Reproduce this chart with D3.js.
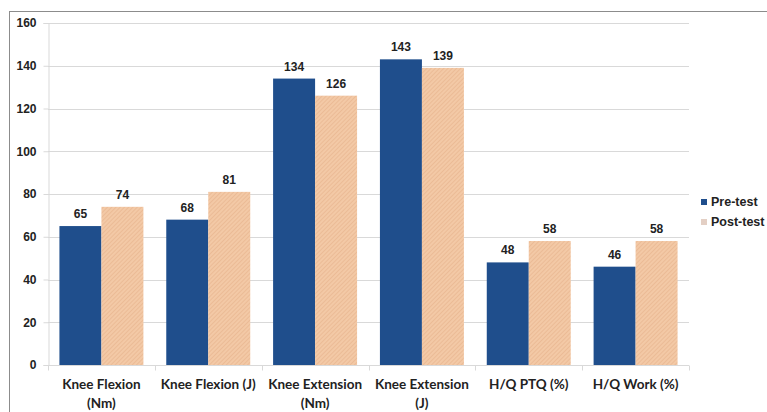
<!DOCTYPE html>
<html>
<head>
<meta charset="utf-8">
<script src="https://cdn.jsdelivr.net/npm/d3@7"></script>
<style>
  html, body { margin: 0; padding: 0; background: #ffffff; }
  svg { display: block; }
</style>
</head>
<body>
<svg id="chart" width="767" height="412"></svg>
<script>
// Isokinetic knee strength, before and after the programme
const categories = [
  ["Knee Flexion", "(Nm)"],
  ["Knee Flexion (J)"],
  ["Knee Extension", "(Nm)"],
  ["Knee Extension", "(J)"],
  ["H/Q PTQ (%)"],
  ["H/Q Work (%)"]
];
const preTest  = [65, 68, 134, 143, 48, 46];
const postTest = [74, 81, 126, 139, 58, 58];
const seriesNames = ["Pre-test", "Post-test"];
const yTicks = [0, 20, 40, 60, 80, 100, 120, 140, 160];

const W = 767, H = 412;
const margin = { left: 48, top: 23 };
const plotRight = 689;
const plotBottom = 365;

const svg = d3.select("#chart");

// chart frame
svg.append("rect")
  .attr("x", 9.5).attr("y", 11.5)
  .attr("width", W).attr("height", H)
  .attr("fill", "#ffffff")
  .attr("stroke", "#8c8c8c").attr("stroke-width", 1);

// hatched fill for post-test bars
const defs = svg.append("defs");
const pat = defs.append("pattern")
  .attr("id", "hatch")
  .attr("patternUnits", "userSpaceOnUse")
  .attr("width", 3).attr("height", 3)
  .attr("patternTransform", "rotate(45)");
pat.append("rect").attr("width", 3).attr("height", 3).attr("fill", "#f3c9a6");
pat.append("rect").attr("width", 1).attr("height", 3).attr("fill", "#ebbb96");

const x0 = d3.scaleBand()
  .domain(d3.range(categories.length))
  .range([margin.left, plotRight])
  .paddingInner(0.214)
  .paddingOuter(0.107);

const x1 = d3.scaleBand()
  .domain(seriesNames)
  .range([0, x0.bandwidth()]);

const y = d3.scaleLinear().domain([0, 160]).range([plotBottom, margin.top]);

const colors = { "Pre-test": "#1f4e8c", "Post-test": "url(#hatch)" };

// gridlines
svg.append("g")
  .selectAll("line")
  .data(yTicks.filter(d => d > 0))
  .join("line")
  .attr("x1", margin.left).attr("x2", plotRight)
  .attr("y1", d => Math.round(y(d)) + 0.5).attr("y2", d => Math.round(y(d)) + 0.5)
  .attr("stroke", "#d9d9d9").attr("stroke-width", 1);

// y axis
const yAxis = svg.append("g")
  .attr("transform", `translate(${margin.left + 0.5},0)`)
  .call(d3.axisLeft(y).tickValues(yTicks).tickSize(5).tickPadding(7));
yAxis.select(".domain").attr("stroke", "#d9d9d9");
yAxis.selectAll(".tick line").attr("stroke", "#d9d9d9");
yAxis.selectAll(".tick text")
  .attr("font-family", "Liberation Sans, Arial, sans-serif")
  .attr("font-weight", "bold")
  .attr("font-size", 12)
  .attr("fill", "#222")
  .attr("x", -12);

// bars
const rows = categories.map((c, i) => ({ i, values: [preTest[i], postTest[i]] }));
const groups = svg.append("g")
  .selectAll("g")
  .data(rows)
  .join("g")
  .attr("transform", d => `translate(${x0(d.i)},0)`);

groups.selectAll("rect")
  .data(d => d.values.map((v, k) => ({ name: seriesNames[k], v })))
  .join("rect")
  .attr("x", d => x1(d.name))
  .attr("y", d => y(d.v))
  .attr("width", x1.bandwidth())
  .attr("height", d => plotBottom - y(d.v))
  .attr("fill", d => colors[d.name]);

groups.selectAll("text.val")
  .data(d => d.values.map((v, k) => ({ name: seriesNames[k], v })))
  .join("text")
  .attr("class", "val")
  .attr("x", d => x1(d.name) + x1.bandwidth() / 2)
  .attr("y", d => y(d.v) - 8)
  .attr("text-anchor", "middle")
  .attr("font-family", "Liberation Sans, Arial, sans-serif")
  .attr("font-weight", "bold")
  .attr("font-size", 12)
  .attr("fill", "#222")
  .text(d => d.v);

// x axis
const xAxis = svg.append("g")
  .attr("transform", `translate(0,${plotBottom + 0.5})`);
xAxis.append("line")
  .attr("x1", margin.left).attr("x2", plotRight)
  .attr("stroke", "#d9d9d9");
const bounds = d3.range(categories.length + 1).map(i =>
  i === categories.length ? plotRight : x0(i) - x0.step() * x0.paddingInner() / 2);
xAxis.selectAll("line.tk")
  .data(bounds)
  .join("line")
  .attr("class", "tk")
  .attr("x1", d => Math.round(d) + 0.5).attr("x2", d => Math.round(d) + 0.5)
  .attr("y1", 0).attr("y2", 5)
  .attr("stroke", "#d9d9d9");

xAxis.selectAll("text.cat")
  .data(categories)
  .join("text")
  .attr("class", "cat")
  .attr("font-family", "Lato, 'Open Sans', sans-serif")
  .attr("font-weight", "bold")
  .attr("font-size", 13.5)
  .attr("fill", "#222")
  .attr("text-anchor", "middle")
  .each(function(lines, i) {
    const t = d3.select(this);
    lines.forEach((ln, k) => {
      t.append("tspan")
        .attr("x", x0(i) + x0.bandwidth() / 2)
        .attr("y", 23 + k * 19)
        .text(ln);
    });
  });

// legend
const legend = svg.append("g").attr("transform", "translate(701,0)");
const legendY = [202, 222];
seriesNames.forEach((name, k) => {
  legend.append("rect")
    .attr("x", 0).attr("y", legendY[k] - 3)
    .attr("width", 6).attr("height", 6)
    .attr("fill", k === 0 ? "#1f4e8c" : "#e3cfc4");
  legend.append("text")
    .attr("x", 10).attr("y", legendY[k])
    .attr("dy", "0.35em")
    .attr("font-family", "Liberation Sans, Arial, sans-serif")
    .attr("font-weight", "bold")
    .attr("font-size", 12.5)
    .attr("fill", "#222")
    .text(name);
});
</script>
</body>
</html>
